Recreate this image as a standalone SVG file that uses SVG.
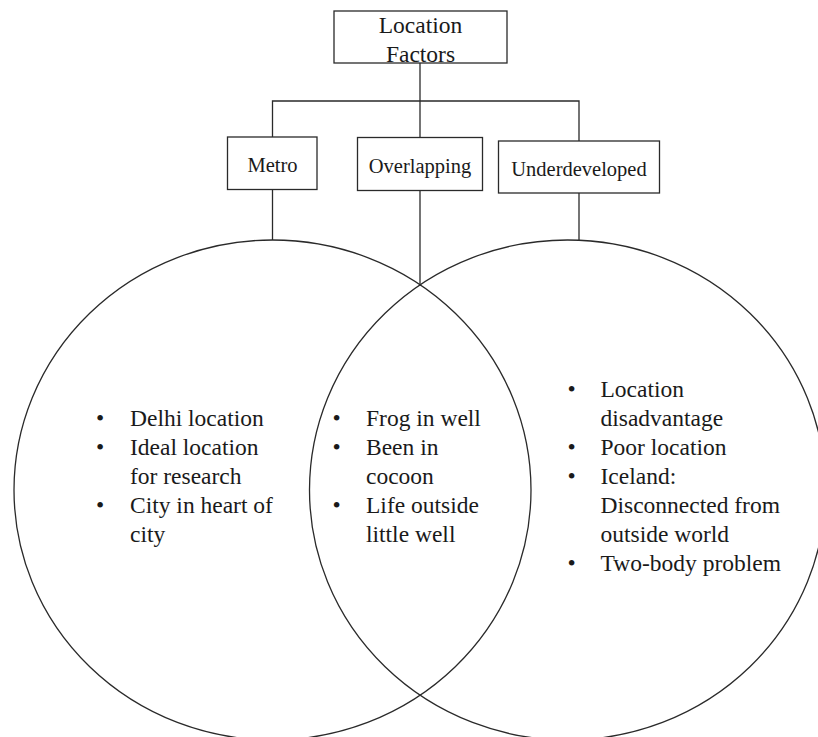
<svg xmlns="http://www.w3.org/2000/svg" width="818" height="737" viewBox="0 0 818 737">
  <style>
    .box { fill: #ffffff; stroke: #2a2a2a; stroke-width: 1.3; }
    .ring { fill: none; stroke: #2a2a2a; stroke-width: 1.3; }
    .wire { fill: none; stroke: #2a2a2a; stroke-width: 1.3; }
    text { font-family: 'Liberation Serif', 'DejaVu Serif', serif; fill: #1a1a1a; }
    .title { font-size: 23.5px; text-anchor: middle; }
    .label { font-size: 20.5px; text-anchor: middle; }
    .item { font-size: 23.5px; }
    .dot { text-anchor: middle; }
  </style>
  <rect width="818" height="737" fill="#ffffff"/>

  <!-- Venn ellipses -->
  <g id="venn">
    <ellipse id="metro-set" class="ring" cx="272.5" cy="490" rx="258.5" ry="250"/>
    <ellipse id="underdeveloped-set" class="ring" cx="567.5" cy="490" rx="258" ry="250"/>
  </g>

  <!-- Tree connectors -->
  <g id="connectors">
    <path class="wire" d="M420,63 V137.5"/>
    <path class="wire" d="M272.5,137 V101 H579 V141"/>
    <path class="wire" d="M272.5,189.5 V240"/>
    <path class="wire" d="M420,190.5 V286"/>
    <path class="wire" d="M579,193 V240"/>
  </g>

  <g id="location-factors">
    <rect class="box" x="334" y="11" width="173" height="52"/>
    <text class="title" x="420.5" y="33">Location</text>
    <text class="title" x="420.5" y="61.5">Factors</text>
  </g>

  <g id="metro">
    <rect class="box" x="227.5" y="137" width="89.5" height="52.5"/>
    <text class="label" x="272.5" y="171.5">Metro</text>
  </g>

  <g id="overlapping">
    <rect class="box" x="357.5" y="137.5" width="125" height="53"/>
    <text class="label" x="420" y="172.5">Overlapping</text>
  </g>

  <g id="underdeveloped">
    <rect class="box" x="498.5" y="141" width="161" height="52"/>
    <text class="label" x="579" y="176">Underdeveloped</text>
  </g>

  <!-- Metro-only items -->
  <g id="metro-items">
    <text class="item dot" x="100" y="426">•</text>
    <text class="item" x="130" y="426">Delhi location</text>
    <text class="item dot" x="100" y="455">•</text>
    <text class="item" x="130" y="455">Ideal location</text>
    <text class="item" x="130" y="484">for research</text>
    <text class="item dot" x="100" y="513">•</text>
    <text class="item" x="130" y="513">City in heart of</text>
    <text class="item" x="130" y="542">city</text>
  </g>

  <!-- Shared items -->
  <g id="overlap-items">
    <text class="item dot" x="336.5" y="426">•</text>
    <text class="item" x="366" y="426">Frog in well</text>
    <text class="item dot" x="336.5" y="455">•</text>
    <text class="item" x="366" y="455">Been in</text>
    <text class="item" x="366" y="484">cocoon</text>
    <text class="item dot" x="336.5" y="513">•</text>
    <text class="item" x="366" y="513">Life outside</text>
    <text class="item" x="366" y="542">little well</text>
  </g>

  <!-- Underdeveloped-only items -->
  <g id="underdeveloped-items">
    <text class="item dot" x="571.5" y="397">•</text>
    <text class="item" x="600.5" y="397">Location</text>
    <text class="item" x="600.5" y="426">disadvantage</text>
    <text class="item dot" x="571.5" y="455">•</text>
    <text class="item" x="600.5" y="455">Poor location</text>
    <text class="item dot" x="571.5" y="484">•</text>
    <text class="item" x="600.5" y="484">Iceland:</text>
    <text class="item" x="600.5" y="513">Disconnected from</text>
    <text class="item" x="600.5" y="542">outside world</text>
    <text class="item dot" x="571.5" y="571">•</text>
    <text class="item" x="600.5" y="571">Two-body problem</text>
  </g>
</svg>
